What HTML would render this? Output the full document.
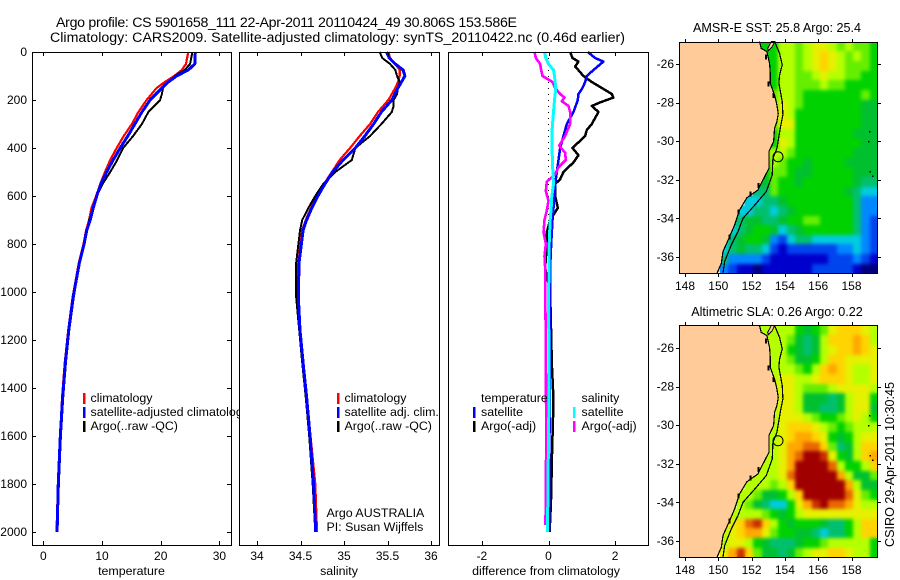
<!DOCTYPE html>
<html>
<head>
<meta charset="utf-8">
<title>Argo profile</title>
<style>
html,body{margin:0;padding:0;background:#fff;width:900px;height:580px;overflow:hidden}
svg{display:block}
text{font-family:"Liberation Sans",sans-serif;font-size:12.4px;fill:#000}
.title{font-size:14.2px}
.maptitle{font-size:12.6px}
.tick{font-size:12px}
</style>
</head>
<body>
<svg id="chart" width="900" height="580" viewBox="0 0 900 580" xmlns="http://www.w3.org/2000/svg">
<defs>
<filter id="soften" color-interpolation-filters="sRGB"><feGaussianBlur in="SourceGraphic" stdDeviation="1.8" result="b"/><feMerge><feMergeNode in="SourceGraphic"/><feMergeNode in="b"/></feMerge></filter>
<clipPath id="sst-clip"><rect x="680" y="42" width="197" height="231"/></clipPath>
<clipPath id="sla-clip"><rect x="680" y="325" width="197" height="232"/></clipPath>
</defs>
<rect width="900" height="580" fill="#fff"/>
<text class="title" x="56" y="27" textLength="461" lengthAdjust="spacing">Argo profile: CS 5901658_111 22-Apr-2011 20110424_49 30.806S 153.586E</text>
<text class="title" x="50" y="42" textLength="575" lengthAdjust="spacing">Climatology: CARS2009. Satellite-adjusted climatology: synTS_20110422.nc (0.46d earlier)</text>
<text class="maptitle" x="777" y="32" text-anchor="middle">AMSR-E SST: 25.8 Argo: 25.4</text>
<text class="maptitle" x="777" y="316" text-anchor="middle">Altimetric SLA: 0.26 Argo: 0.22</text>
<text class="maptitle" transform="translate(894,547) rotate(-90)" textLength="165" lengthAdjust="spacing">CSIRO 29-Apr-2011 10:30:45</text>
</svg>
<script>
// ---- profile data ----
const tempClimDepth = [0,50,75,100,125,150,200,250,300,350,400,450,500,550,600,650,700,742,800,879,1020,1158,1296,1437,1600,1800,2000];
const tempClimValue = [24.7,24.3,23.6,22.3,20.7,19.3,17.6,16.2,15.1,13.7,12.5,11.4,10.5,9.7,9.0,8.2,7.8,7.3,6.85,6.05,5.0,4.25,3.65,3.2,2.85,2.5,2.25];
const tempArgoDepth = [0,50,75,100,125,150,175,200,250,300,350,400,450,500,550,600,650,700,742,800,879,1020,1158,1296,1437,1600,1800,1920];
const tempArgoValue = [25.4,25.0,24.1,22.4,21.3,20.4,20.2,19.9,17.9,16.8,15.3,13.6,12.6,11.4,10.1,9.1,8.6,7.8,7.45,7.0,6.2,5.2,4.43,3.85,3.4,3.0,2.65,2.5];
const tempSatDepth = [0,50,75,100,125,150,200,250,300,350,400,450,500,550,600,650,700,742,800,879,1020,1158,1296,1437,1600,1800,2000];
const tempSatValue = [25.9,25.8,24.7,22.7,21.3,20.2,18.2,16.8,15.6,14.4,13.1,11.9,10.8,9.8,9.1,8.5,8.0,7.4,6.95,6.14,5.1,4.33,3.75,3.3,2.9,2.55,2.35];

const salClimDepth = [0,25,50,75,100,125,150,200,250,300,350,400,450,500,550,600,650,700,742,879,1020,1158,1296,1437,1600,1800,2000];
const salClimValue = [35.51,35.53,35.59,35.64,35.64,35.62,35.59,35.51,35.39,35.30,35.18,35.07,34.95,34.86,34.77,34.69,34.62,34.56,34.52,34.475,34.47,34.49,34.525,34.565,34.615,34.67,34.69];
const salArgoDepth = [0,25,50,75,100,125,150,175,200,225,250,300,350,400,450,500,550,600,650,700,742,879,1020,1158,1296,1437,1600,1800,2000];
const salArgoValue = [35.41,35.44,35.53,35.59,35.61,35.64,35.62,35.61,35.57,35.57,35.55,35.43,35.30,35.13,35.09,34.90,34.76,34.67,34.59,34.52,34.495,34.45,34.45,34.485,34.52,34.56,34.60,34.64,34.67];
const salSatDepth = [0,25,50,75,100,125,150,200,250,300,350,400,450,500,550,600,650,700,742,879,1020,1158,1296,1437,1600,1800,2000];
const salSatValue = [35.49,35.52,35.59,35.68,35.70,35.66,35.62,35.55,35.43,35.34,35.24,35.13,34.99,34.87,34.78,34.70,34.63,34.57,34.53,34.483,34.475,34.494,34.53,34.57,34.61,34.65,34.675];

const diffTempSatDepth = [0,25,40,75,100,125,150,175,200,250,300,350,400,450,500,550,600,700,800,900,1000,1200,2000];
const diffTempSatValue = [1.18,1.40,1.65,1.35,1.15,1.10,1.02,0.90,0.88,0.75,0.55,0.45,0.35,0.30,0.25,0.20,0.18,0.12,0.08,0.05,0.05,0.04,0.02];
const diffTempArgoDepth = [0,25,40,60,100,125,150,175,190,210,225,250,300,325,350,400,430,460,500,530,550,600,650,700,750,800,900,1000,1300,1450,1700,1850,1950,2000];
const diffTempArgoValue = [0.65,0.72,0.90,0.80,1.05,1.30,1.60,1.90,1.95,1.55,1.30,1.50,1.30,1.15,1.10,0.72,0.90,0.75,0.45,0.35,0.20,0.20,0.28,0.05,-0.05,-0.05,-0.10,0.05,0.10,0.15,0.10,0.08,0.05,0.03];
const diffSalSatDepth = [0,25,50,75,100,125,150,200,250,300,350,400,450,500,550,600,650,700,800,900,1000,1400,1600,2000];
const diffSalSatValue = [-0.12,-0.08,0,0.15,0.18,0.20,0.22,0.18,0.15,0.12,0.10,0.10,0.12,0.13,0.15,0.10,0.08,0.05,0.02,0.02,0,0.02,0,-0.03];
const diffSalArgoDepth = [0,25,50,75,100,125,150,175,190,205,225,250,300,350,390,420,450,480,510,540,580,620,660,700,750,800,850,900,1000,1200,1600,1900,1970];
const diffSalArgoValue = [-0.42,-0.38,-0.25,-0.22,-0.18,0.12,0.20,0.35,0.48,0.40,0.60,0.65,0.65,0.50,0.32,0.50,0.52,0.30,0.20,-0.05,-0.08,0,-0.05,-0.12,-0.15,-0.08,-0.12,-0.10,-0.10,-0.08,-0.07,-0.08,-0.10];
const zeroLineDepth = [0,2000];
const zeroLineValue = [0,0];

// ---- tick labels ----
const depthTicks = [0,200,400,600,800,1000,1200,1400,1600,1800,2000];
const tempTicks = [0,10,20,30];
const salTicks = [34,34.5,35,35.5,36];
const diffTicks = [-2,0,2];
const lonTicks = [148,150,152,154,156,158];
const latTicks = [26,28,30,32,34,36];

// ---- map data: colour level per 0.5 degree cell, -1 = under land ----
const cellLons = [147.6,148.1,148.6,149.1,149.6,150.1,150.6,151.1,151.6,152.1,152.6,153.1,153.6,154.1,154.6,155.1,155.6,156.1,156.6,157.1,157.6,158.1,158.6,159.1];
const cellLats = [24.85,25.35,25.85,26.35,26.85,27.35,27.85,28.35,28.85,29.35,29.85,30.35,30.85,31.35,31.85,32.35,32.85,33.35,33.85,34.35,34.85,35.35,35.85,36.35];
const sstLevels = [
[-1,-1,-1,-1,-1,-1,-1,-1,-1,7,7,7,9,9,8,9,10,10,9,8,9,8,8,7],
[-1,-1,-1,-1,-1,-1,-1,-1,-1,-1,7,7,9,9,8,9,10,11,10,9,8,9,8,7],
[-1,-1,-1,-1,-1,-1,-1,-1,-1,-1,-1,7,9,9,8,9,10,11,10,9,8,8,8,7],
[-1,-1,-1,-1,-1,-1,-1,-1,-1,-1,-1,7,9,9,8,8,9,10,9,9,8,8,7,7],
[-1,-1,-1,-1,-1,-1,-1,-1,-1,-1,-1,7,9,9,8,8,8,9,8,8,7,7,7,7],
[-1,-1,-1,-1,-1,-1,-1,-1,-1,-1,-1,8,9,9,8,7,7,7,7,7,7,7,8,7],
[-1,-1,-1,-1,-1,-1,-1,-1,-1,-1,-1,8,10,9,8,7,7,7,7,7,7,7,6,6],
[-1,-1,-1,-1,-1,-1,-1,-1,-1,-1,-1,9,10,9,7,7,7,7,7,7,7,7,6,6],
[-1,-1,-1,-1,-1,-1,-1,-1,-1,-1,-1,8,10,10,7,7,7,7,7,7,7,7,6,6],
[-1,-1,-1,-1,-1,-1,-1,-1,-1,-1,-1,7,9,9,7,7,7,7,7,7,7,6,6,6],
[-1,-1,-1,-1,-1,-1,-1,-1,-1,-1,-1,7,10,9,7,7,7,7,7,7,7,7,6,6],
[-1,-1,-1,-1,-1,-1,-1,-1,-1,-1,8,9,9,8,7,7,7,7,7,7,7,6,6,6],
[-1,-1,-1,-1,-1,-1,-1,-1,-1,-1,7,9,8,7,7,6,7,7,7,7,6,6,6,6],
[-1,-1,-1,-1,-1,-1,-1,-1,-1,-1,7,8,8,7,6,6,7,7,7,7,7,6,6,6],
[-1,-1,-1,-1,-1,-1,-1,-1,-1,6,6,8,7,7,6,7,7,7,7,7,7,6,5,5],
[-1,-1,-1,-1,-1,-1,-1,-1,-1,5,5,8,7,7,7,7,7,7,7,7,6,5,4,4],
[-1,-1,-1,-1,-1,-1,-1,-1,4,4,5,5,6,7,7,7,7,7,7,7,7,5,3,3],
[-1,-1,-1,-1,-1,-1,-1,4,4,5,5,4,5,6,7,7,7,7,7,7,7,5,3,3],
[-1,-1,-1,-1,-1,-1,5,5,6,6,5,5,6,7,7,8,8,7,7,7,7,5,3,2],
[-1,-1,-1,-1,-1,-1,4,5,6,7,7,6,4,5,6,7,7,7,7,7,7,5,3,2],
[-1,-1,-1,-1,-1,4,5,6,7,7,6,3,2,4,5,5,4,4,4,4,4,4,3,2],
[-1,-1,-1,-1,-1,4,5,6,5,5,4,2,1,2,2,2,2,2,2,3,3,4,3,2],
[-1,-1,-1,-1,-1,5,3,3,3,3,2,1,1,1,1,1,1,1,2,2,2,3,2,1],
[-1,-1,-1,-1,-1,3,2,1,1,0,1,1,1,1,1,1,2,2,2,2,2,1,0,0]
];
const slaLevels = [
[-1,-1,-1,-1,-1,-1,-1,-1,-1,9,9,9,9,9,7,6,7,8,10,11,11,11,10,9],
[-1,-1,-1,-1,-1,-1,-1,-1,-1,-1,9,9,9,8,6,5,6,9,11,11,11,12,11,9],
[-1,-1,-1,-1,-1,-1,-1,-1,-1,-1,-1,9,9,7,6,5,6,9,10,11,11,12,11,10],
[-1,-1,-1,-1,-1,-1,-1,-1,-1,-1,-1,9,9,8,6,6,7,9,11,11,10,10,10,10],
[-1,-1,-1,-1,-1,-1,-1,-1,-1,-1,-1,9,9,9,8,7,9,11,12,11,10,9,9,10],
[-1,-1,-1,-1,-1,-1,-1,-1,-1,-1,-1,9,10,10,9,9,10,11,11,11,10,9,9,10],
[-1,-1,-1,-1,-1,-1,-1,-1,-1,-1,-1,9,10,10,9,8,8,8,9,10,10,10,10,9],
[-1,-1,-1,-1,-1,-1,-1,-1,-1,-1,-1,9,10,10,9,6,6,6,5,6,9,10,10,7],
[-1,-1,-1,-1,-1,-1,-1,-1,-1,-1,-1,9,10,10,9,6,6,5,5,6,9,10,10,6],
[-1,-1,-1,-1,-1,-1,-1,-1,-1,-1,-1,9,10,10,10,9,8,7,7,8,9,10,9,7],
[-1,-1,-1,-1,-1,-1,-1,-1,-1,-1,-1,9,10,11,11,11,10,9,8,7,8,9,9,9],
[-1,-1,-1,-1,-1,-1,-1,-1,-1,-1,9,9,10,11,12,12,11,10,7,6,7,9,10,10],
[-1,-1,-1,-1,-1,-1,-1,-1,-1,-1,9,9,10,12,12,13,13,11,8,5,6,9,11,11],
[-1,-1,-1,-1,-1,-1,-1,-1,-1,-1,9,9,10,12,13,15,15,14,10,7,6,9,11,12],
[-1,-1,-1,-1,-1,-1,-1,-1,-1,9,9,9,10,12,15,15,15,15,13,9,7,7,9,11],
[-1,-1,-1,-1,-1,-1,-1,-1,9,9,9,9,10,13,15,15,15,15,15,12,9,6,6,8],
[-1,-1,-1,-1,-1,-1,-1,-1,9,9,9,8,9,11,15,15,15,15,15,15,12,9,6,6],
[-1,-1,-1,-1,-1,-1,-1,9,9,8,6,6,7,9,11,15,15,15,15,15,13,10,8,7],
[-1,-1,-1,-1,-1,-1,-1,9,8,6,5,4,4,7,10,12,14,15,13,13,12,10,9,9],
[-1,-1,-1,-1,-1,-1,9,9,9,9,8,7,6,7,9,10,10,10,10,10,10,10,10,10],
[-1,-1,-1,-1,-1,-1,10,11,13,14,11,9,7,6,7,7,7,6,5,5,7,9,11,11],
[-1,-1,-1,-1,-1,9,10,11,12,12,10,8,7,7,6,6,5,4,5,5,7,9,11,11],
[-1,-1,-1,-1,-1,9,10,10,9,7,6,5,5,5,6,7,7,8,9,9,9,9,9,7],
[-1,-1,-1,-1,-1,10,12,14,11,8,6,6,5,6,8,9,10,10,11,11,10,9,9,7]
];
const levelColors = ['#00007f','#0000cc','#0044ee','#0088ff','#00ccdd','#00c070','#00c030','#00d200','#66ee00','#b4ff00','#e6f000','#ffd400','#ffa800','#e86800','#c83000','#a00000'];
const coastLon = [152.48,152.58,152.92,153.08,153.12,153.12,153.38,153.52,153.6,153.52,153.38,153.32,153.04,153.04,152.58,152.38,151.72,151.28,150.98,150.68,150.28,150.18,149.92];
const coastLat = [24.84,25.19,25.36,25.97,26.48,27.0,27.61,28.12,28.56,28.99,29.33,30.02,30.54,31.41,32.18,32.53,32.93,33.56,34.34,34.95,35.72,36.33,36.85];
const islandLon = [153.18,153.38,153.24,153.0,152.96];
const islandLat = [24.84,24.84,25.1,25.32,25.2];
const contourLon = [153.38,153.68,153.84,153.68,153.64,153.84,153.88,153.72,153.52,153.28,153.24,152.88,152.28,151.48,151.18,150.78,150.38,150.28];
const contourLat = [24.84,25.45,26.05,26.57,27.0,27.95,28.64,29.33,30.37,30.89,31.75,32.61,33.22,34.0,34.69,35.38,36.24,36.85];
const blobLon = [152.92,153.08,153.38,152.48,151.98,151.28,150.72];
const blobLat = [25.6,27.0,27.6,32.27,32.7,33.65,34.95];
const speckLon = [159.04,159.0,159.08,159.22];
const speckLat = [29.47,30.0,31.54,31.79];
const floatLon = 153.586;
const floatLat = 30.806;

// ---- axis functions ----
const yDepth = d => 52 + d * 0.24;
const xTemp = t => 43.3 + t * 5.87;
const xSal = s => 257 + (s - 34) * 87;
const xDiff = v => 548.5 + v * 33.3;
const xLon = lon => 685 + (lon - 148) * 16.65;
const ySst = lat => 64 + (lat - 26) * 19.3;
const ySla = lat => 348 + (lat - 26) * 19.3;

const svg = document.getElementById('chart');
const NS = 'http://www.w3.org/2000/svg';
function mk(tag, attrs, parent) {
  const el = document.createElementNS(NS, tag);
  for (const k in attrs) el.setAttribute(k, attrs[k]);
  (parent || svg).appendChild(el);
  return el;
}
function label(str, x, y, anchor, parent) {
  const t = mk('text', {x: x, y: y, 'text-anchor': anchor || 'start'}, parent);
  t.textContent = str;
  return t;
}
function seriesPoints(xs, ys, fx, fy) {
  return xs.map((v, i) => fx(v) + ',' + fy(ys[i])).join(' ');
}

function drawPanel(name, left, right, top, bottom, xTicks, fx, xTitle, withDepth, series, legend) {
  const g = mk('g', {});
  
  
  const bg = mk('rect', {x: left, y: top, width: right - left, height: bottom - top, fill: '#fff'}, g);
  
  
  series.forEach(s => {
    const line = mk('polyline', {points: seriesPoints(s.values, s.depths, fx, yDepth), fill: 'none', stroke: s.color, 'stroke-width': s.width, 'stroke-dasharray': s.dash || 'none', 'shape-rendering': 'crispEdges', 'stroke-linejoin': 'round'}, g);
    
    
  });
  legend.forEach(e => {
    if (e.color) {
      const sw = mk('rect', {x: e.x, y: e.y - 9, width: 2.5, height: 11, fill: e.color, 'shape-rendering': 'crispEdges'}, g);
      
      
    }
    const t = label(e.text, e.tx, e.y, 'start', g);
    
    
  });
  const frame = mk('rect', {x: left + 0.5, y: top + 0.5, width: right - left, height: bottom - top, fill: 'none', stroke: '#000', 'shape-rendering': 'crispEdges'}, g);
  
  
  xTicks.forEach(v => {
    const x = Math.round(fx(v)) + 0.5;
    const a = mk('line', {x1: x, x2: x, y1: bottom, y2: bottom - 4, stroke: '#000', 'shape-rendering': 'crispEdges'}, g);
    
    
    const b = mk('line', {x1: x, x2: x, y1: top, y2: top + 4, stroke: '#000', 'shape-rendering': 'crispEdges'}, g);
    
    
    const t = label(String(v), fx(v), 560, 'middle', g);
    t.setAttribute('class', 'tick');
    
    
  });
  const xt = label(xTitle, (left + right) / 2 + (name === 'difference' ? -2 : 0), 575, 'middle', g);
  
  
  if (withDepth) {
    depthTicks.forEach(d => {
      const y = Math.round(yDepth(d)) + 0.5;
      const a = mk('line', {x1: left, x2: left + 4, y1: y, y2: y, stroke: '#000', 'shape-rendering': 'crispEdges'}, g);
      
      
      const b = mk('line', {x1: right, x2: right - 4, y1: y, y2: y, stroke: '#000', 'shape-rendering': 'crispEdges'}, g);
      
      
      const t = label(String(d), 27, yDepth(d) + 4, 'end', g);
      t.setAttribute('class', 'tick');
      
      
    });
  }
}

function drawMap(name, levels, fy, top, bottom) {
  const g = mk('g', {});
  
  
  const clipLayer = mk('g', {'clip-path': 'url(#' + name + '-clip)'}, g);
  
  
  const cells = mk('g', {filter: 'url(#soften)'}, clipLayer);
  
  
  levels.forEach((row, r) => {
    row.forEach((lv, c) => {
      if (lv < 0) return;
      const x0 = Math.round(xLon(cellLons[c]));
      const x1 = Math.min(877, Math.round(xLon(cellLons[c] + 0.5)));
      const y0 = Math.round(fy(cellLats[r]));
      const y1 = Math.min(bottom, Math.round(fy(cellLats[r] + 0.5)));
      const cell = mk('rect', {x: x0, y: y0, width: x1 - x0, height: y1 - y0, fill: levelColors[lv], 'shape-rendering': 'crispEdges'}, cells);
      
      
    });
  });
  const edge = coastLon.map((v, i) => xLon(v) + ',' + fy(coastLat[i])).join(' ');
  const land = mk('polygon', {points: '679,' + top + ' ' + edge + ' 679,' + bottom, fill: '#ffcc99', stroke: 'none'}, g);
  
  
  const isl = mk('polygon', {points: seriesPoints(islandLon, islandLat, xLon, fy), fill: '#ffcc99', stroke: '#000', 'shape-rendering': 'crispEdges'}, g);
  
  
  const coast = mk('polyline', {points: edge, fill: 'none', stroke: '#000', 'stroke-width': 1.2, 'shape-rendering': 'crispEdges'}, g);
  
  
  const contour = mk('polyline', {points: seriesPoints(contourLon, contourLat, xLon, fy), fill: 'none', stroke: '#000', 'stroke-width': 1.2, 'shape-rendering': 'crispEdges'}, g);
  
  
  blobLon.forEach((v, i) => {
    const b = mk('rect', {x: xLon(v) - 2, y: fy(blobLat[i]) - 2, width: 2, height: 5, fill: '#000', 'shape-rendering': 'crispEdges'}, g);
    
    
  });
  speckLon.forEach((v, i) => {
    const s = mk('rect', {x: xLon(v), y: fy(speckLat[i]), width: 1.5, height: 1.5, fill: '#000', 'shape-rendering': 'crispEdges'}, g);
    
    
  });
  const marker = mk('circle', {cx: xLon(floatLon), cy: fy(floatLat), r: 5, fill: 'none', stroke: '#000', 'stroke-width': 1}, g);
  
  
  const frame = mk('rect', {x: 679.5, y: top + 0.5, width: 198, height: bottom - top, fill: 'none', stroke: '#000', 'shape-rendering': 'crispEdges'}, g);
  
  
  lonTicks.forEach(v => {
    const x = Math.round(xLon(v)) + 0.5;
    const a = mk('line', {x1: x, x2: x, y1: top, y2: top - 3, stroke: '#000', 'shape-rendering': 'crispEdges'}, g);
    
    
    const b = mk('line', {x1: x, x2: x, y1: bottom + 1, y2: bottom + 4, stroke: '#000', 'shape-rendering': 'crispEdges'}, g);
    
    
    const t = label(String(v), xLon(v), bottom + 17, 'middle', g);
    t.setAttribute('class', 'tick');
    
    
  });
  latTicks.forEach(v => {
    const y = Math.round(fy(v)) + 0.5;
    const a = mk('line', {x1: 679, x2: 676, y1: y, y2: y, stroke: '#000', 'shape-rendering': 'crispEdges'}, g);
    
    
    const b = mk('line', {x1: 878, x2: 881, y1: y, y2: y, stroke: '#000', 'shape-rendering': 'crispEdges'}, g);
    
    
    const t = label('-' + v, 674, fy(v) + 4, 'end', g);
    t.setAttribute('class', 'tick');
    
    
  });
}

drawPanel('temperature', 32, 231, 52, 545, tempTicks, xTemp, 'temperature', true, [
  {name: 'climatology', depths: tempClimDepth, values: tempClimValue, color: '#f00', width: 2.2},
  {name: 'argo', depths: tempArgoDepth, values: tempArgoValue, color: '#000', width: 2},
  {name: 'satellite', depths: tempSatDepth, values: tempSatValue, color: '#00f', width: 3}
], [
  {text: 'climatology', color: '#f00', x: 83, tx: 90.5, y: 402},
  {text: 'satellite-adjusted climatology', color: '#00f', x: 83, tx: 90.5, y: 416},
  {text: 'Argo(..raw -QC)', color: '#000', x: 83, tx: 90.5, y: 430}
]);
drawPanel('salinity', 239, 439, 52, 545, salTicks, xSal, 'salinity', false, [
  {name: 'climatology', depths: salClimDepth, values: salClimValue, color: '#f00', width: 2.2},
  {name: 'argo', depths: salArgoDepth, values: salArgoValue, color: '#000', width: 2},
  {name: 'satellite', depths: salSatDepth, values: salSatValue, color: '#00f', width: 3}
], [
  {text: 'climatology', color: '#f00', x: 337, tx: 344.5, y: 402},
  {text: 'satellite adj. clim.', color: '#00f', x: 337, tx: 344.5, y: 416},
  {text: 'Argo(..raw -QC)', color: '#000', x: 337, tx: 344.5, y: 430},
  {text: 'Argo AUSTRALIA', color: null, x: 0, tx: 326.5, y: 517},
  {text: 'PI: Susan Wijffels', color: null, x: 0, tx: 326.5, y: 531}
]);
drawPanel('difference', 448, 648, 52, 545, diffTicks, xDiff, 'difference from climatology', false, [
  {name: 'zero', depths: zeroLineDepth, values: zeroLineValue, color: '#000', width: 1, dash: '1 5'},
  {name: 'temperature-argo', depths: diffTempArgoDepth, values: diffTempArgoValue, color: '#000', width: 2.5},
  {name: 'temperature-satellite', depths: diffTempSatDepth, values: diffTempSatValue, color: '#00f', width: 2.5},
  {name: 'salinity-argo', depths: diffSalArgoDepth, values: diffSalArgoValue, color: '#f0f', width: 2.6},
  {name: 'salinity-satellite', depths: diffSalSatDepth, values: diffSalSatValue, color: '#0ff', width: 3}
], [
  {text: 'temperature', color: null, x: 0, tx: 481, y: 402},
  {text: 'satellite', color: '#00f', x: 473, tx: 481, y: 416},
  {text: 'Argo(-adj)', color: '#000', x: 473, tx: 481, y: 430},
  {text: 'salinity', color: null, x: 0, tx: 581.5, y: 402},
  {text: 'satellite', color: '#0ff', x: 573, tx: 581.5, y: 416},
  {text: 'Argo(-adj)', color: '#f0f', x: 573, tx: 581.5, y: 430}
]);
drawMap('sst', sstLevels, ySst, 42, 273);
drawMap('sla', slaLevels, ySla, 325, 557);
</script>
</body>
</html>
